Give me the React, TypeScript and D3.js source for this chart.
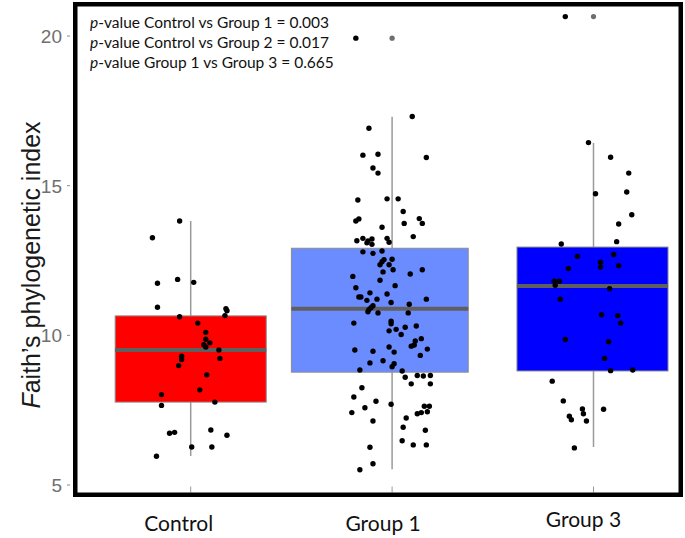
import React from 'react';
import * as d3 from 'd3';

// ---- data ----
const groups = ['Control', 'Group 1', 'Group 3'];
const q1 = [7.77, 8.77, 8.81];
const medians = [9.51, 10.89, 11.65];
const q3 = [10.65, 12.91, 12.95];
const whiskerLow = [5.97, 5.53, 6.27];
const whiskerHigh = [13.82, 17.3, 16.43];
const outliers = [[], [19.93], [20.65]];
const yTicks = [5, 10, 15, 20];
const pValueLines = [
  ['Control vs Group 1', '0.003'],
  ['Control vs Group 2', '0.017'],
  ['Group 1 vs Group 3', '0.665'],
];

// [jitter (fraction of half a category step), value]
const controlPoints: [number, number][] = [
  [-0.11, 13.82], [-0.38, 13.26], [-0.33, 11.74], [-0.13, 11.87], [0.03, 11.77],
  [-0.33, 10.94], [0.35, 10.89], [0.36, 10.82], [-0.11, 10.62], [0.34, 10.66],
  [0.07, 10.41], [0.15, 10.1], [0.15, 9.87], [0.19, 9.75], [0.13, 9.69],
  [0.15, 9.61], [0.28, 9.51], [-0.09, 9.3], [-0.09, 9.19], [0.29, 9.23],
  [-0.12, 8.99], [0.16, 8.68], [0.09, 8.18], [-0.29, 8.02], [0.24, 7.77],
  [-0.29, 7.66], [-0.21, 6.73], [-0.16, 6.76], [0.2, 6.84], [0.36, 6.66],
  [0.01, 6.27], [0.21, 6.27], [-0.34, 5.96],
];

const group1Points: [number, number][] = [
  [-0.36, 19.93], [0.2, 17.31], [-0.23, 16.92], [-0.29, 16.02], [-0.14, 16.05],
  [0.34, 15.94], [-0.19, 15.59], [-0.14, 15.42], [-0.34, 14.52], [-0.05, 14.56],
  [0.06, 14.56], [0.11, 14.14], [-0.33, 13.89], [-0.36, 13.82], [0.27, 13.9],
  [0.3, 13.74], [0.12, 13.74], [-0.1, 13.61], [0.21, 13.3], [-0.35, 13.16],
  [-0.29, 13.24], [-0.24, 13.15], [-0.2, 13.22], [-0.2, 13.04], [-0.25, 13.09],
  [-0.05, 13.24], [-0.03, 13.11], [-0.29, 12.79], [-0.19, 12.74], [-0.1, 12.82],
  [-0.08, 12.53], [0.0, 12.54], [-0.1, 12.46], [-0.12, 12.36], [-0.03, 12.36],
  [0.01, 12.19], [-0.09, 12.12], [0.3, 12.19], [0.18, 12.05], [-0.39, 11.97],
  [-0.12, 11.84], [0.03, 11.66], [-0.36, 11.59], [-0.22, 11.42], [-0.05, 11.38],
  [-0.33, 11.28], [-0.31, 11.28], [-0.15, 11.21], [-0.25, 11.17], [0.34, 11.21],
  [-0.01, 11.1], [0.17, 11.04], [-0.19, 10.99], [-0.21, 10.92], [-0.23, 10.86],
  [-0.24, 10.79], [-0.14, 10.75], [0.16, 10.75], [-0.38, 10.41], [-0.01, 10.47],
  [-0.01, 10.39], [0.24, 10.31], [0.13, 10.27], [0.04, 10.2], [-0.03, 10.15],
  [0.09, 10.03], [0.29, 9.89], [0.23, 9.81], [0.22, 9.68], [0.19, 9.64],
  [-0.03, 9.61], [-0.37, 9.51], [-0.19, 9.47], [0.02, 9.44], [0.35, 9.54],
  [0.28, 9.33], [-0.09, 9.15], [-0.22, 9.08], [0.02, 9.05], [0.0, 8.95],
  [-0.32, 8.84], [0.1, 8.81], [0.13, 8.6], [0.25, 8.66], [0.31, 8.64],
  [0.38, 8.66], [0.19, 8.38], [0.38, 8.38], [-0.3, 8.25], [-0.38, 7.94],
  [-0.16, 7.8], [-0.01, 7.7], [-0.27, 7.58], [0.32, 7.63], [0.37, 7.63],
  [-0.4, 7.42], [0.25, 7.38], [0.29, 7.42], [0.35, 7.45], [0.14, 7.24],
  [-0.19, 7.14], [0.11, 6.93], [0.33, 6.83], [0.1, 6.48], [0.21, 6.34],
  [0.34, 6.34], [-0.22, 6.26], [-0.19, 5.71], [-0.32, 5.51],
];

const group3Points: [number, number][] = [
  [-0.28, 20.65], [-0.05, 16.44], [0.17, 15.95], [0.35, 15.42], [0.02, 14.73],
  [0.33, 14.79], [0.38, 14.03], [0.25, 13.72], [-0.32, 13.05], [0.23, 13.13],
  [-0.16, 12.64], [0.2, 12.7], [0.07, 12.44], [0.07, 12.28], [0.25, 12.33],
  [-0.25, 12.23], [-0.39, 11.81], [-0.34, 11.81], [-0.38, 11.67], [0.16, 11.56],
  [-0.33, 11.21], [0.08, 10.69], [0.24, 10.66], [0.27, 10.41], [-0.28, 9.86],
  [0.15, 9.79], [0.11, 9.23], [0.17, 8.82], [0.39, 8.84], [-0.41, 8.47],
  [-0.3, 7.81], [-0.11, 7.54], [-0.1, 7.38], [0.1, 7.53], [-0.24, 7.3],
  [-0.22, 7.18], [-0.07, 7.14], [-0.19, 6.24],
];

const pointsByGroup = [controlPoints, group1Points, group3Points];

// ---- styling ----
const W = 685;
const H = 538;
const frame = { left: 73, right: 683, top: 2, bottom: 497, stroke: 4.5 };
const boxFills = ['#ff0000', '#6b8cff', '#0000ff'];
// box extent left / right of the whisker, as a fraction of a category step
const boxLeft = [0.375, 0.5, 0.38];
const boxRight = [0.375, 0.378, 0.37];
const labelShift = [-12, -9, -10];
const labelY = [531, 531, 527];
const sans = "'Liberation Sans', Arial, sans-serif";
const calibriLike = "Lato, 'Open Sans', sans-serif";

export default function App() {
  const x = d3.scalePoint<string>().domain(groups).range([190.7, 593.5]);
  const step = x.step();
  const y = d3.scaleLinear().domain([4.85, 20.97]).range([489.5, 7]);

  const innerBottom = frame.bottom - frame.stroke;

  return (
    <svg
      width={W}
      height={H}
      style={{ position: 'absolute', left: 0, top: 0, background: '#fff' }}
    >
      {/* boxes */}
      {groups.map((g, i) => {
        const cx = x(g) as number;
        const x0 = cx - boxLeft[i] * step;
        const x1 = cx + boxRight[i] * step;
        return (
          <g key={g}>
            <line
              x1={cx}
              x2={cx}
              y1={y(whiskerHigh[i])}
              y2={y(whiskerLow[i])}
              stroke="#9a9a9a"
              strokeWidth={1.5}
            />
            <rect
              x={x0}
              y={y(q3[i])}
              width={x1 - x0}
              height={y(q1[i]) - y(q3[i])}
              fill={boxFills[i]}
              stroke="#8c8c8c"
              strokeWidth={1}
            />
            <line
              x1={x0}
              x2={x1}
              y1={y(medians[i])}
              y2={y(medians[i])}
              stroke="#5f5f5f"
              strokeWidth={4}
            />
            {outliers[i].map((o, k) => (
              <circle key={k} cx={cx} cy={y(o)} r={2.6} fill="#6e6e6e" />
            ))}
          </g>
        );
      })}

      {/* jittered points */}
      {groups.map((g, i) => (
        <g key={g + '-pts'}>
          {pointsByGroup[i].map(([j, v], k) => (
            <circle
              key={k}
              cx={(x(g) as number) + (j * step) / 2}
              cy={y(v)}
              r={2.7}
              fill="#000"
            />
          ))}
        </g>
      ))}

      {/* x ticks inside the bottom of the panel */}
      {groups.map((g) => (
        <line
          key={g + '-tick'}
          x1={x(g)}
          x2={x(g)}
          y1={innerBottom - 6}
          y2={innerBottom}
          stroke="#9a9a9a"
          strokeWidth={1}
        />
      ))}

      {/* frame */}
      <rect
        x={frame.left + frame.stroke / 2}
        y={frame.top + frame.stroke / 2}
        width={frame.right - frame.left - frame.stroke}
        height={frame.bottom - frame.top - frame.stroke}
        fill="none"
        stroke="#000"
        strokeWidth={frame.stroke}
      />

      {/* y axis */}
      {yTicks.map((t) => (
        <g key={t} transform={`translate(0,${y(t)})`}>
          <line x1={frame.left - 6} x2={frame.left - 3} stroke="#8a8a8a" strokeWidth={1} />
          <text
            x={frame.left - 11}
            dy="0.36em"
            textAnchor="end"
            fontFamily={sans}
            fontSize={19}
            fill="#6f6f6f"
          >
            {t}
          </text>
        </g>
      ))}
      <text
        transform={`translate(40,265) rotate(-90)`}
        textAnchor="middle"
        fontFamily={sans}
        fontSize={25}
        fill="#1a1a1a"
      >
        <tspan fontStyle="italic">F</tspan>aith’s phylogenetic index
      </text>

      {/* x labels */}
      {groups.map((g, i) => (
        <text
          key={g + '-label'}
          x={(x(g) as number) + labelShift[i]}
          y={labelY[i]}
          textAnchor="middle"
          fontFamily={calibriLike}
          fontSize={21}
          fill="#111"
        >
          {g}
        </text>
      ))}

      {/* p-values */}
      {pValueLines.map(([cmp, p], i) => (
        <text
          key={cmp}
          x={90}
          y={28 + i * 20}
          fontFamily={calibriLike}
          fontSize={15.5}
          fill="#111"
        >
          <tspan fontStyle="italic">p</tspan>-value {cmp} = {p}
        </text>
      ))}
    </svg>
  );
}
